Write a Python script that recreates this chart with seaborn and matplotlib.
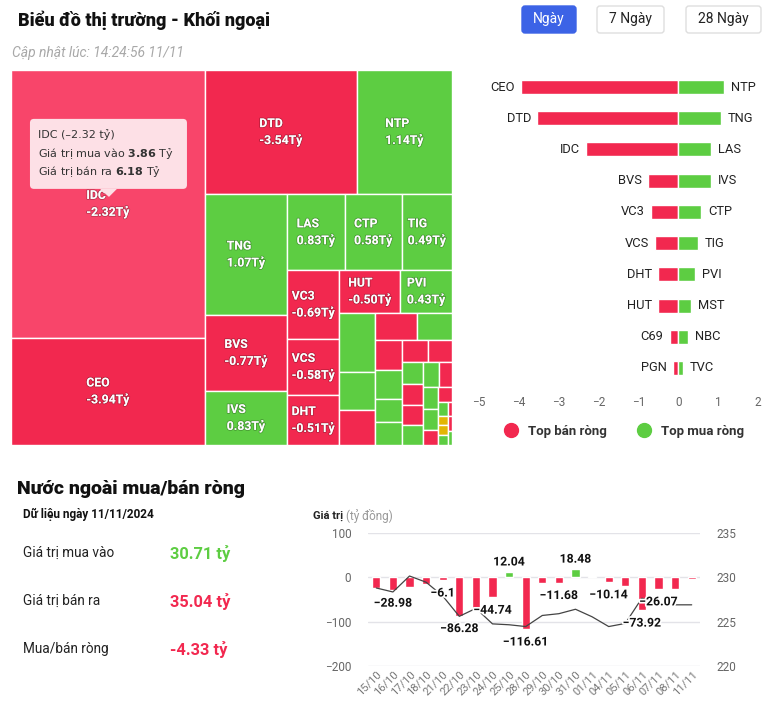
import numpy as np
import pandas as pd
import seaborn as sns
import matplotlib.pyplot as plt
from matplotlib.patches import Rectangle, FancyBboxPatch, Polygon
from matplotlib.lines import Line2D
import matplotlib.patheffects as pe

# treemap: labelled tickers (size = traded value, net = net foreign flow, ty)
tm_codes = ['IDC', 'CEO', 'DTD', 'NTP', 'TNG', 'BVS', 'IVS', 'LAS', 'CTP', 'TIG',
            'VC3', 'VCS', 'DHT', 'HUT', 'PVI']
tm_net = [-2.32, -3.94, -3.54, 1.14, 1.07, -0.77, 0.83, 0.83, 0.58, 0.49,
          -0.69, -0.58, -0.51, -0.50, 0.43]
tm_size = [10.04, 4.02, 3.65, 2.28, 1.92, 1.21, 0.86, 0.85, 0.84, 0.74,
           0.69, 0.57, 0.504, 0.497, 0.42]
# small unlabelled cells
tail_size = [0.410, 0.260, 0.240, 0.220, 0.183, 0.162, 0.152, 0.124, 0.120, 0.111,
             0.102, 0.090, 0.088, 0.081, 0.080, 0.078, 0.062, 0.060, 0.058, 0.042,
             0.040, 0.027, 0.019, 0.019, 0.019, 0.012, 0.012, 0.012]
tail_sign = [1, 1, -1, -1, 1, -1, 1, 1, 1, -1,
             -1, 1, -1, -1, 1, 1, -1, 1, 1, -1,
             -1, 1, 0, 0, 1, -1, -1, 1]

# top net sellers / buyers
sell_codes = ['CEO', 'DTD', 'IDC', 'BVS', 'VC3', 'VCS', 'DHT', 'HUT', 'C69', 'PGN']
sell_vals = [-3.94, -3.54, -2.32, -0.77, -0.69, -0.58, -0.51, -0.50, -0.22, -0.14]
buy_codes = ['NTP', 'TNG', 'LAS', 'IVS', 'CTP', 'TIG', 'PVI', 'MST', 'NBC', 'TVC']
buy_vals = [1.14, 1.07, 0.83, 0.83, 0.58, 0.49, 0.43, 0.32, 0.25, 0.12]

# daily net flow and index
dates = ['15/10', '16/10', '17/10', '18/10', '21/10', '22/10', '23/10', '24/10', '25/10', '28/10',
         '29/10', '30/10', '31/10', '01/11', '04/11', '05/11', '06/11', '07/11', '08/11', '11/11']
net_flow = [-23, -28.98, -21, -15, -6.1, -86.28, -69.5, -44.74, 12.04, -116.61,
            -12, -11.68, 18.48, 3, -10.14, -19, -73.92, -26.07, -25.5, -4.33]
index_vals = [228.8, 228.35, 230.15, 229.45, 227.9, 225.6, 226.5, 224.75, 224.65, 224.45,
              225.7, 225.9, 226.4, 225.55, 224.45, 224.8, 227.65, 226.95, 226.9, 226.9]
labeled_dates = ['16/10', '21/10', '22/10', '24/10', '25/10', '28/10', '30/10', '31/10',
                 '04/11', '06/11', '07/11']

buy_total, sell_total, net_total = 30.71, 35.04, -4.33

RED = '#f2284f'
GREEN = '#5dcd42'
YELLOW = '#e2b604'
HOVER = '#f8456a'

sns.set_theme(style='white')
plt.rcParams['font.family'] = ['Roboto', 'DejaVu Sans']
plt.rcParams['mathtext.fontset'] = 'dejavusans'

W, H = 772, 716
fig = plt.figure(figsize=(W / 100, H / 100), dpi=100)


def frame(x0, y0, x1, y1):
    return [x0 / W, 1 - y1 / H, (x1 - x0) / W, (y1 - y0) / H]


def treemap_layout(sizes, x, y, w, h):
    # squarified strips, direction alternates column / row
    areas = np.array(sizes, dtype=float) / sum(sizes) * w * h
    rects, strip, vertical = [], [], True

    def ratio(a, b):
        return max(a / b, b / a)

    def flush(strip, vertical, x, y, w, h):
        tot = sum(strip)
        if vertical:
            t = tot / h
            yy = y
            for a in strip:
                rects.append((x, yy, t, a / t))
                yy += a / t
            return x + t, y, w - t, h
        t = tot / w
        xx = x
        for a in strip:
            rects.append((xx, y, a / t, t))
            xx += a / t
        return x, y + t, w, h - t

    for a in areas:
        if strip:
            last = strip[-1]
            side = h if vertical else w
            old_t = sum(strip) / side
            new_t = (sum(strip) + a) / side
            if ratio(new_t, last / new_t) > ratio(old_t, last / old_t):
                x, y, w, h = flush(strip, vertical, x, y, w, h)
                vertical = not vertical
                strip = []
        strip.append(a)
    flush(strip, vertical, x, y, w, h)
    return rects


# background layer in pixel coordinates
bg = fig.add_axes([0, 0, 1, 1])
bg.set_xlim(0, W)
bg.set_ylim(H, 0)
bg.axis('off')

bg.text(18, 20, 'Biểu đồ thị trường - Khối ngoại', fontsize=13, weight='heavy',
        color='#111', va='center')
bg.text(12, 53, 'Cập nhật lúc: 14:24:56 11/11', fontsize=10, style='italic',
        color='#a8a8a8', va='center')

buttons = [('Ngày', 522, 576, True), ('7 Ngày', 597, 664, False), ('28 Ngày', 686, 761, False)]
for label, x0, x1, active in buttons:
    bg.add_patch(FancyBboxPatch((x0, 6), x1 - x0, 27, boxstyle='round,pad=0,rounding_size=3',
                                facecolor='#3c63e6' if active else 'white',
                                edgecolor='#3c63e6' if active else '#dedede', lw=1))
    bg.text((x0 + x1) / 2, 19.5, label, ha='center', va='center', fontsize=10,
            color='white' if active else '#222')

# ---- treemap ----
tm = fig.add_axes(frame(11, 70, 452, 445))
tm.set_xlim(0, 441)
tm.set_ylim(375, 0)
tm.axis('off')

sizes = tm_size + tail_size
signs = list(np.sign(tm_net)) + tail_sign
codes = tm_codes + [''] * len(tail_size)
nets = tm_net + [None] * len(tail_size)
rects = treemap_layout(sizes, 0, 0, 441, 375)
outline = [pe.withStroke(linewidth=1.2, foreground=(0, 0, 0, 0.25))]
for (x, y, w, h), code, s, v in zip(rects, codes, signs, nets):
    color = GREEN if s > 0 else (RED if s < 0 else YELLOW)
    if code == 'IDC':
        color = HOVER
    tm.add_patch(Rectangle((x, y), w, h, facecolor=color, edgecolor='white', lw=1))
    if code:
        tm.text(x + w / 2, y + h / 2, f'{code}\n{v:.2f}Tỷ', ha='center', va='center',
                multialignment='left', color='white', fontsize=8.8, weight='bold',
                linespacing=1.25, path_effects=outline)

# tooltip on IDC
ix, iy, iw, ih = rects[0]
cxi, cyi = ix + iw / 2, iy + ih / 2
bx0, by0 = cxi - 78, cyi - 85
tm.add_patch(FancyBboxPatch((bx0, by0), 157, 70, boxstyle='round,pad=0,rounding_size=4',
                            facecolor='#fde0e6', edgecolor='none', zorder=5))
tm.add_patch(Polygon([(cxi - 8, by0 + 70), (cxi + 9, by0 + 70), (cxi + 1, cyi - 7)],
                     closed=True, facecolor='#fde0e6', edgecolor='none', zorder=5))
tip_lines = [f'IDC (–{abs(tm_net[0]):.2f} tỷ)',
             r'Giá trị mua vào $\mathbf{3.86}$ Tỷ',
             r'Giá trị bán ra $\mathbf{6.18}$ Tỷ']
for k, line in enumerate(tip_lines):
    tm.text(bx0 + 8, by0 + 16 + k * 18.5, line, family='DejaVu Sans', fontsize=8,
            color='#333', va='center', ha='left', zorder=6)

# ---- top sellers / buyers ----
bx = fig.add_axes(frame(479, 71.4, 758, 383.6))
rank = list(range(len(sell_vals)))
sns.barplot(x=sell_vals, y=rank, orient='h', color=RED, saturation=1, width=0.45,
            edgecolor='white', linewidth=1, errorbar=None, ax=bx)
sns.barplot(x=buy_vals, y=rank, orient='h', color=GREEN, saturation=1, width=0.45,
            edgecolor='white', linewidth=1, errorbar=None, ax=bx)
for i, (c, v) in enumerate(zip(sell_codes, sell_vals)):
    bx.annotate(c, (v, i), xytext=(-6, 0), textcoords='offset pixels', ha='right',
                va='center', fontsize=9.3, color='#222')
for i, (c, v) in enumerate(zip(buy_codes, buy_vals)):
    bx.annotate(c, (v, i), xytext=(7, 0), textcoords='offset pixels', ha='left',
                va='center', fontsize=9.3, color='#222')
bx.set_xlim(-5, 2)
bx.set_ylim(len(rank) - 0.5, -0.5)
bx.set_xticks(range(-5, 3))
bx.set_yticks([])
bx.set_ylabel('')
bx.tick_params(axis='x', length=0, pad=9, labelsize=8.5, labelcolor='#666')
sns.despine(ax=bx, left=True, bottom=True)

fig.legend(handles=[Line2D([], [], marker='o', ls='', markersize=10, color=RED),
                    Line2D([], [], marker='o', ls='', markersize=10, color=GREEN)],
           labels=['Top bán ròng', 'Top mua ròng'], loc='center',
           bbox_to_anchor=(621 / W, 1 - 431 / H), ncol=2, frameon=False,
           prop={'weight': 'bold', 'size': 9.5}, labelcolor='#333',
           handletextpad=0.3, columnspacing=1.8)

# ---- bottom left summary ----
bg.text(17, 489, 'Nước ngoài mua/bán ròng', fontsize=14, weight='heavy', color='#111', va='center')
bg.text(23, 514, 'Dữ liệu ngày 11/11/2024', fontsize=8.5, weight='bold', color='#111', va='center')
summary = [('Giá trị mua vào', buy_total, GREEN, 553),
           ('Giá trị bán ra', sell_total, RED, 601),
           ('Mua/bán ròng', net_total, RED, 649)]
for name, val, col, yy in summary:
    bg.text(23, yy, name, fontsize=9.8, color='#222', va='center')
    bg.text(170, yy, f'{val:.2f} tỷ', fontsize=11.8, weight='bold', color=col, va='center')

# ---- daily net flow chart ----
bg.text(313, 516, 'Giá trị', fontsize=8, weight='bold', color='#222', va='center')
bg.text(346, 516, '(tỷ đồng)', fontsize=8.5, color='#999', va='center')

cx = fig.add_axes(frame(368, 533, 700, 666))
flow_df = pd.DataFrame({'date': dates, 'net': net_flow,
                        'side': ['mua' if v > 0 else 'bán' for v in net_flow]})
sns.barplot(data=flow_df, x='date', y='net', hue='side', palette={'mua': GREEN, 'bán': RED},
            order=dates, dodge=False, width=0.5, saturation=1, legend=False,
            errorbar=None, ax=cx)
cx.set_ylim(-200, 100)
cx.set_yticks([-200, -100, 0, 100])
cx.yaxis.grid(True, color='#e3e3e8', lw=1)
cx.set_axisbelow(True)
cx.set_xlabel('')
cx.set_ylabel('')
cx.tick_params(axis='y', length=0, pad=12, labelsize=8.5, labelcolor='#666')
cx.tick_params(axis='x', length=0, pad=2, labelsize=8, labelcolor='#777')
plt.setp(cx.get_xticklabels(), rotation=45, ha='right', rotation_mode='anchor')
sns.despine(ax=cx, left=True, bottom=True)

rx = cx.twinx()
sns.lineplot(x=np.arange(len(dates)), y=index_vals, ax=rx, color='#444', lw=0.9)
rx.set_ylim(220, 235)
rx.set_yticks([220, 225, 230, 235])
rx.grid(False)
rx.tick_params(axis='y', length=0, pad=12, labelsize=8.5, labelcolor='#666')
sns.despine(ax=rx, left=True, bottom=True, right=True)
cx.set_xlim(-0.5, len(dates) - 0.5)

white = [pe.withStroke(linewidth=2.5, foreground='white')]
for i, (d, v) in enumerate(zip(dates, net_flow)):
    if d in labeled_dates:
        rx.annotate(f'{v:g}'.replace('-', '−'), (i, v), xycoords=cx.transData,
                    xytext=(0, -13 if v < 0 else 10), textcoords='offset pixels',
                    ha='center', va='center', fontsize=8.8, weight='bold', color='#111',
                    path_effects=white)

fig.savefig('out.png', dpi=100)
